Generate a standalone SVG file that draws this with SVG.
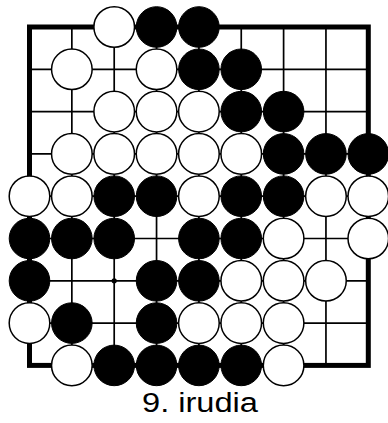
<svg xmlns="http://www.w3.org/2000/svg" width="388" height="423" viewBox="0 0 388 423">
<style>
.grid line{stroke:#000;stroke-width:1.7}
.border{fill:none;stroke:#000;stroke-width:5}
.w{fill:#fff;stroke:#000;stroke-width:1.5}
.b{fill:#000;stroke:#000;stroke-width:1}
.label{font-family:"Liberation Sans",Arial,sans-serif;font-size:27px;fill:#000}
</style>
<rect width="388" height="423" fill="#fff"/>
<g id="connectors" class="grid">
<line x1="71.85" y1="27" x2="71.85" y2="365.4"/>
<line x1="114.2" y1="27" x2="114.2" y2="365.4"/>
<line x1="156.55" y1="27" x2="156.55" y2="365.4"/>
<line x1="198.9" y1="27" x2="198.9" y2="365.4"/>
<line x1="241.25" y1="27" x2="241.25" y2="365.4"/>
<line x1="283.6" y1="27" x2="283.6" y2="365.4"/>
<line x1="325.95" y1="27" x2="325.95" y2="365.4"/>
<line x1="29.5" y1="69.3" x2="368.3" y2="69.3"/>
<line x1="29.5" y1="111.6" x2="368.3" y2="111.6"/>
<line x1="29.5" y1="153.9" x2="368.3" y2="153.9"/>
<line x1="29.5" y1="196.2" x2="368.3" y2="196.2"/>
<line x1="29.5" y1="238.5" x2="368.3" y2="238.5"/>
<line x1="29.5" y1="280.8" x2="368.3" y2="280.8"/>
<line x1="29.5" y1="323.1" x2="368.3" y2="323.1"/>
<rect class="border" x="29.5" y="27" width="338.8" height="338.4"/>
<circle cx="114.2" cy="280.8" r="2.6" fill="#000"/>
</g>
<g id="stones">
<g id="r0"><circle class="w" cx="114.2" cy="27" r="20.3"/><circle class="b" cx="156.55" cy="27" r="20.3"/><circle class="b" cx="198.9" cy="27" r="20.3"/></g>
<g id="r1"><circle class="w" cx="71.85" cy="69.3" r="20.3"/><circle class="w" cx="156.55" cy="69.3" r="20.3"/><circle class="b" cx="198.9" cy="69.3" r="20.3"/><circle class="b" cx="241.25" cy="69.3" r="20.3"/></g>
<g id="r2"><circle class="w" cx="114.2" cy="111.6" r="20.3"/><circle class="w" cx="156.55" cy="111.6" r="20.3"/><circle class="w" cx="198.9" cy="111.6" r="20.3"/><circle class="b" cx="241.25" cy="111.6" r="20.3"/><circle class="b" cx="283.6" cy="111.6" r="20.3"/></g>
<g id="r3"><circle class="w" cx="71.85" cy="153.9" r="20.3"/><circle class="w" cx="114.2" cy="153.9" r="20.3"/><circle class="w" cx="156.55" cy="153.9" r="20.3"/><circle class="w" cx="198.9" cy="153.9" r="20.3"/><circle class="w" cx="241.25" cy="153.9" r="20.3"/><circle class="b" cx="283.6" cy="153.9" r="20.3"/><circle class="b" cx="325.95" cy="153.9" r="20.3"/><circle class="b" cx="368.3" cy="153.9" r="20.3"/></g>
<g id="r4"><circle class="w" cx="29.5" cy="196.2" r="20.3"/><circle class="w" cx="71.85" cy="196.2" r="20.3"/><circle class="b" cx="114.2" cy="196.2" r="20.3"/><circle class="b" cx="156.55" cy="196.2" r="20.3"/><circle class="w" cx="198.9" cy="196.2" r="20.3"/><circle class="b" cx="241.25" cy="196.2" r="20.3"/><circle class="b" cx="283.6" cy="196.2" r="20.3"/><circle class="w" cx="325.95" cy="196.2" r="20.3"/><circle class="w" cx="368.3" cy="196.2" r="20.3"/></g>
<g id="r5"><circle class="b" cx="29.5" cy="238.5" r="20.3"/><circle class="b" cx="71.85" cy="238.5" r="20.3"/><circle class="b" cx="114.2" cy="238.5" r="20.3"/><circle class="b" cx="198.9" cy="238.5" r="20.3"/><circle class="b" cx="241.25" cy="238.5" r="20.3"/><circle class="w" cx="283.6" cy="238.5" r="20.3"/><circle class="w" cx="368.3" cy="238.5" r="20.3"/></g>
<g id="r6"><circle class="b" cx="29.5" cy="280.8" r="20.3"/><circle class="b" cx="156.55" cy="280.8" r="20.3"/><circle class="b" cx="198.9" cy="280.8" r="20.3"/><circle class="w" cx="241.25" cy="280.8" r="20.3"/><circle class="w" cx="283.6" cy="280.8" r="20.3"/><circle class="w" cx="325.95" cy="280.8" r="20.3"/></g>
<g id="r7"><circle class="w" cx="29.5" cy="323.1" r="20.3"/><circle class="b" cx="71.85" cy="323.1" r="20.3"/><circle class="b" cx="156.55" cy="323.1" r="20.3"/><circle class="w" cx="198.9" cy="323.1" r="20.3"/><circle class="w" cx="241.25" cy="323.1" r="20.3"/><circle class="w" cx="283.6" cy="323.1" r="20.3"/></g>
<g id="r8"><circle class="w" cx="71.85" cy="365.4" r="20.3"/><circle class="b" cx="114.2" cy="365.4" r="20.3"/><circle class="b" cx="156.55" cy="365.4" r="20.3"/><circle class="b" cx="198.9" cy="365.4" r="20.3"/><circle class="b" cx="241.25" cy="365.4" r="20.3"/><circle class="w" cx="283.6" cy="365.4" r="20.3"/></g>
</g>
<g id="caption"><text class="label" x="142" y="411.5" textLength="116" lengthAdjust="spacingAndGlyphs">9. irudia</text></g>
</svg>
